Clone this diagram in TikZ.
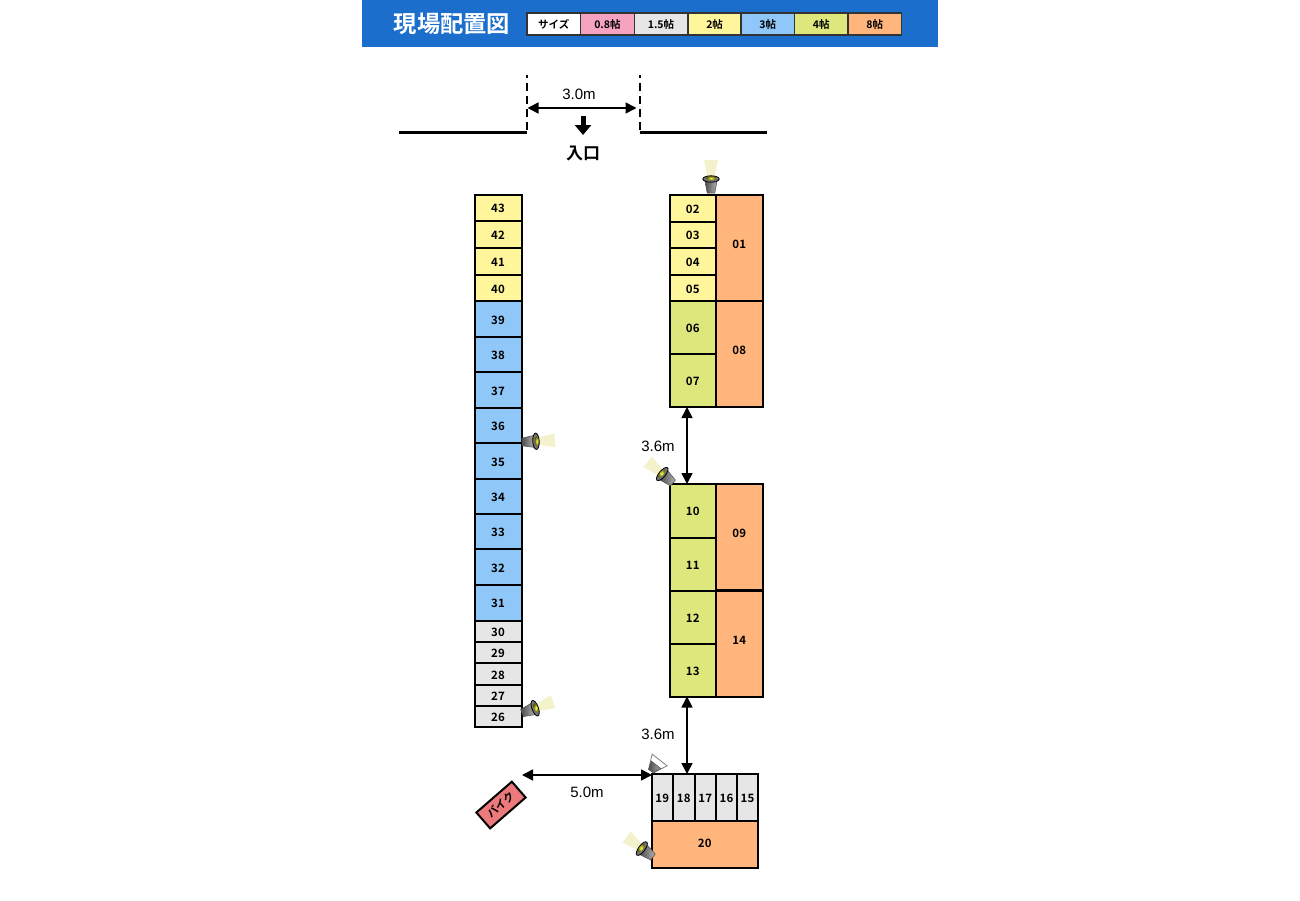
\documentclass[tikz,border=0pt]{standalone}
\usepackage{fontspec}
\setmainfont{Liberation Sans}
\newfontfamily\jpfont[BoldFont={Noto Sans CJK JP Bold}]{Noto Sans CJK JP}
\usetikzlibrary{positioning, shapes, arrows.meta, calc}
\definecolor{barblue}{HTML}{1B6ECC}
\definecolor{sizepink}{HTML}{F5A3C0}
\definecolor{sizegray}{HTML}{E6E6E6}
\definecolor{sizeyellow}{HTML}{FFF59B}
\definecolor{sizeblue}{HTML}{8FC8F8}
\definecolor{sizegreen}{HTML}{DDE77C}
\definecolor{sizeorange}{HTML}{FFB57C}
\definecolor{bikered}{HTML}{EC7A7C}
\definecolor{beamyellow}{HTML}{F4F2CC}
\tikzset{
  unit/.style={draw=black, line width=2, inner sep=0, outer sep=0, anchor=north west,
    font=\jpfont\bfseries\fontsize{11.5}{11.5}\selectfont, text=black, text height=10.4, text depth=0},
  bigunit/.style={unit, fill=sizeorange, text depth=9},
  legendcell/.style={draw=black!80, line width=1.4, inner sep=0, outer sep=0, anchor=north west,
    minimum height=22, minimum width=53.6, text height=9.5, text depth=0,
    font=\jpfont\bfseries\fontsize{10.5}{10.5}\selectfont},
  dimarrow/.style={line width=1.6, {Triangle[length=11,width=11]}-{Triangle[length=11,width=11]}},
  dimlabel/.style={font=\fontsize{15}{15}\selectfont},
  wall/.style={line width=2.6},
  gateline/.style={line width=2.6, dash pattern=on 8 off 5, dash phase=5},
  lamp/.pic={
    \fill[beamyellow] (16,-3.5) -- (33,-7) -- (33,7) -- (16,3.5) -- cycle;
    \shade[left color=black!70, right color=black!30, draw=black!70, line width=.5]
      (0,-3.8) -- (12,-6) -- (12,6) -- (0,3.8) -- cycle;
    \draw[fill=black!55, line width=.8] (14,0) ellipse (3.2 and 8.2);
    \shade[inner color=yellow!70!white, outer color=olive!70!black] (14.8,0) ellipse (2 and 5);
  },
  offlamp/.pic={
    \draw[fill=white, draw=black!50, line width=.8] (0,-3) -- (14,-9.5) -- (14,9.5) -- (0,3) -- cycle;
    \shade[left color=black!70, right color=black!35, draw=black!70, line width=.5]
      (0,-3) -- (8,-6) -- (8,6) -- (0,3) -- cycle;
  }
}
\begin{document}
\begin{tikzpicture}[x=1pt, y=-1pt]
  \useasboundingbox (0,0) rectangle (1300,900);

  % Title bar
  \fill[barblue] (362,0) rectangle (938,47);
  \node[text=white, font=\jpfont\bfseries\fontsize{23.3}{23.3}\selectfont] (title) at (452,24) {現場配置図};
  \foreach \x/\col/\txt [count=\k] in {527/white/サイズ, 580.6/sizepink/0.8帖, 634.2/sizegray/1.5帖,
      687.8/sizeyellow/2帖, 741/sizeblue/3帖, 794.4/sizegreen/4帖, 848/sizeorange/8帖}
    \node[legendcell, fill=\col] (legend\k) at (\x,13) {\txt};

  % Entrance
  \coordinate (gateL) at (527,132);
  \coordinate (gateR) at (640,132.5);
  \coordinate (gateLtop) at (527,75);
  \coordinate (gateRtop) at (640,75);
  \coordinate (wallL) at (399,132.3);
  \coordinate (wallR) at (767,132.5);
  \draw[wall] (wallL) -- (gateL |- wallL);
  \draw[wall] (gateR) -- (wallR);
  \draw[gateline] (gateLtop) -- (gateL);
  \draw[gateline] (gateRtop) -- (gateR);
  \coordinate (widthL) at (527.5,108);
  \coordinate (widthR) at (636.5,108);
  \draw[dimarrow] (widthL) -- (widthR);
  \node[dimlabel] (widthlabel) at (579,94.5) {3.0m};
  \coordinate (inA) at (583,116);
  \coordinate (inB) at (583,135);
  \draw[line width=5, -{Triangle[length=10,width=16]}] (inA) -- (inB);
  \node[font=\jpfont\bfseries\fontsize{17}{17}\selectfont] (entrance) at (583,153) {入口};

  % Left column
  \foreach \n/\y/\h/\col in {43/194.5/26.5/sizeyellow, 42/221/27/sizeyellow, 41/248/27/sizeyellow, 40/275/26/sizeyellow,
      39/301/36/sizeblue, 38/337/35/sizeblue, 37/372/36/sizeblue, 36/408/35/sizeblue, 35/443/36/sizeblue,
      34/479/35/sizeblue, 33/514/35/sizeblue, 32/549/36/sizeblue, 31/585/35.5/sizeblue,
      30/620.5/21.5/sizegray, 29/642/21/sizegray, 28/663/22/sizegray, 27/685/21/sizegray, 26/706/20.5/sizegray}
    \node[unit, fill=\col, minimum width=47, minimum height=\h] (unit\n) at (474.5,\y) {\n};

  % Right column, upper block
  \foreach \n/\y/\h/\col in {02/194.5/27/sizeyellow, 03/221.5/26.5/sizeyellow, 04/248/27/sizeyellow, 05/275/26/sizeyellow,
      06/301/53/sizegreen, 07/354/53/sizegreen, 10/484/53.5/sizegreen, 11/537.5/53/sizegreen,
      12/590.5/53/sizegreen, 13/643.5/53/sizegreen}
    \node[unit, fill=\col, minimum width=46.5, minimum height=\h] (unit\n) at (669.5,\y) {\n};
  \foreach \n/\y in {01/194.5, 08/301, 09/484, 14/590.5}
    \node[bigunit, minimum width=46.5, minimum height=106] (unit\n) at (716,\y) {\n};

  % Bottom block
  \foreach \n/\x/\w in {19/651.5/21.5, 18/673/21.5, 17/694.5/21.5, 16/716/21, 15/737/21}
    \node[unit, fill=sizegray, minimum width=\w, minimum height=47] (unit\n) at (\x,774) {\n};
  \node[unit, fill=sizeorange, text depth=4, minimum width=106.5, minimum height=47] (unit20) at (651.5,821) {20};

  % Bike
  \node[draw=black, line width=2, fill=bikered, rotate=41, minimum width=47, minimum height=21, inner sep=0,
    font=\jpfont\bfseries\fontsize{11}{11}\selectfont] (bike) at (501,805) {バイク};

  % Dimensions
  \coordinate (gapA) at (687,600);
  \draw[dimarrow] (unit07.south -| gapA) -- (unit10.north -| gapA);
  \node[dimlabel] (gapAlabel) at (658,446) {3.6m};
  \draw[dimarrow] (unit13.south -| gapA) -- (unit18.north -| gapA);
  \node[dimlabel] (gapBlabel) at (658,734) {3.6m};
  \coordinate (bikeA) at (522,775);
  \coordinate (bikeB) at (652,775);
  \draw[dimarrow] (bikeA) -- (bikeB);
  \node[dimlabel] (bikelabel) at (587,792) {5.0m};

  % Lights
  \pic[rotate=90] at (711,193) {lamp};
  \pic[rotate=3] at (522,442) {lamp};
  \pic[rotate=140] at (673,483) {lamp};
  \pic[rotate=20] at (522,713) {lamp};
  \pic[rotate=143] at (653,857) {lamp};
  \pic[rotate=52] at (651,771) {offlamp};
\end{tikzpicture}
\end{document}
